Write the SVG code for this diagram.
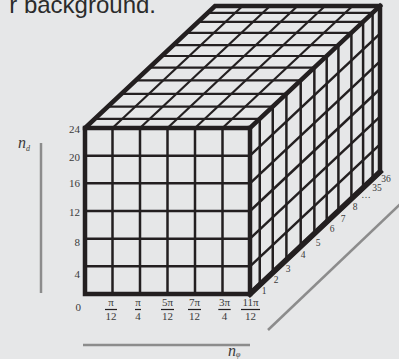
<svg xmlns="http://www.w3.org/2000/svg" width="399" height="359" viewBox="0 0 399 359">
<style>
.bg{fill:#e6e7e8}
.in{stroke:#231f20;stroke-width:2.5;fill:none}
.tin{stroke:#231f20;stroke-width:2.2;fill:none}
.edge{stroke:#231f20;stroke-width:4.5;fill:none;stroke-linejoin:miter;stroke-miterlimit:2;stroke-linecap:square}
.axis{stroke:#8c8c8c;stroke-width:2.5;fill:none}
.lab{font-family:"Liberation Serif","DejaVu Serif",serif;font-size:11px;fill:#3a3a3a}
.rl{text-anchor:end}
.fr{text-anchor:middle}
.dl{font-family:"Liberation Serif","DejaVu Serif",serif;font-size:9.5px;fill:#3a3a3a;text-anchor:middle}
.bar{stroke:#231f20;stroke-width:1.2}
.var{font-family:"Liberation Serif","DejaVu Serif",serif;font-style:italic;font-size:16px;fill:#3a3a3a}
.sub{font-size:8px}
.cap{font-family:"Liberation Sans",Arial,sans-serif;font-size:24px;fill:#2b2b2b}
</style>
<rect class="bg" x="0" y="0" width="399" height="359"/>
<text class="cap" x="156" y="13" text-anchor="end">r background.</text>

<g id="axes">
<line class="axis" x1="41" y1="143" x2="41" y2="293"/>
<line class="axis" x1="83" y1="345" x2="250" y2="345"/>
<line class="axis" x1="268" y1="330" x2="405" y2="199.5"/>
</g>

<g id="top-face">
<polygon class="bg" points="85,128 215,6 380,6 250,128"/>
<g class="tin">
<line x1="94.75" y1="118.85" x2="259.75" y2="118.85"/>
<line x1="107.75" y1="106.65" x2="272.75" y2="106.65"/>
<line x1="121.4" y1="93.84" x2="286.4" y2="93.84"/>
<line x1="135.7" y1="80.42" x2="300.7" y2="80.42"/>
<line x1="149.35" y1="67.61" x2="314.35" y2="67.61"/>
<line x1="161.7" y1="56.02" x2="326.7" y2="56.02"/>
<line x1="173.4" y1="45.04" x2="338.4" y2="45.04"/>
<line x1="186.4" y1="32.84" x2="351.4" y2="32.84"/>
<line x1="198.1" y1="21.86" x2="363.1" y2="21.86"/>
<line x1="207.59" y1="12.95" x2="372.59" y2="12.95"/>
<line x1="112.5" y1="128" x2="242.5" y2="6"/>
<line x1="140" y1="128" x2="270" y2="6"/>
<line x1="167.5" y1="128" x2="297.5" y2="6"/>
<line x1="195" y1="128" x2="325" y2="6"/>
<line x1="222.5" y1="128" x2="352.5" y2="6"/>
</g>
</g>

<g id="side-face">
<polygon class="bg" points="250,128 380,6 380,172 250,294"/>
<g class="in">
<line x1="259.75" y1="118.85" x2="259.75" y2="284.85"/>
<line x1="272.75" y1="106.65" x2="272.75" y2="272.65"/>
<line x1="286.4" y1="93.84" x2="286.4" y2="259.84"/>
<line x1="300.7" y1="80.42" x2="300.7" y2="246.42"/>
<line x1="314.35" y1="67.61" x2="314.35" y2="233.61"/>
<line x1="326.7" y1="56.02" x2="326.7" y2="222.02"/>
<line x1="338.4" y1="45.04" x2="338.4" y2="211.04"/>
<line x1="351.4" y1="32.84" x2="351.4" y2="198.84"/>
<line x1="363.1" y1="21.86" x2="363.1" y2="187.86"/>
<line x1="372.59" y1="12.95" x2="372.59" y2="178.95"/>
<line x1="250" y1="155.67" x2="380" y2="33.67"/>
<line x1="250" y1="183.33" x2="380" y2="61.33"/>
<line x1="250" y1="211" x2="380" y2="89"/>
<line x1="250" y1="238.67" x2="380" y2="116.67"/>
<line x1="250" y1="266.33" x2="380" y2="144.33"/>
</g>
</g>

<g id="front-face">
<rect class="bg" x="85" y="128" width="165" height="166"/>
<g class="in">
<line x1="112.5" y1="128" x2="112.5" y2="294"/>
<line x1="140" y1="128" x2="140" y2="294"/>
<line x1="167.5" y1="128" x2="167.5" y2="294"/>
<line x1="195" y1="128" x2="195" y2="294"/>
<line x1="222.5" y1="128" x2="222.5" y2="294"/>
<line x1="85" y1="155.67" x2="250" y2="155.67"/>
<line x1="85" y1="183.33" x2="250" y2="183.33"/>
<line x1="85" y1="211" x2="250" y2="211"/>
<line x1="85" y1="238.67" x2="250" y2="238.67"/>
<line x1="85" y1="266.33" x2="250" y2="266.33"/>
</g>
</g>

<g id="cube-edges">
<polygon class="edge" points="85,294 85,128 215,6 380,6 380,172 250,294"/>
<polyline class="edge" points="85,128 250,128 380,6"/>
<line class="edge" x1="250" y1="128" x2="250" y2="294"/>
<line class="edge" x1="250" y1="294" x2="380" y2="172" style="stroke-width:5.5"/>
</g>

<g id="y-labels" class="lab rl">
<text x="80" y="133">24</text>
<text x="80" y="160.7">20</text>
<text x="80" y="186.7">16</text>
<text x="80" y="215.7">12</text>
<text x="80" y="246">8</text>
<text x="80" y="277.7">4</text>
<text x="81" y="310.7">0</text>
</g>

<g id="x-labels" class="lab fr">
<g><text x="111" y="305.5">π</text><line class="bar" x1="105" y1="309.5" x2="117" y2="309.5"/><text x="111" y="320">12</text></g>
<g><text x="138" y="305.5">π</text><line class="bar" x1="135" y1="309.5" x2="141" y2="309.5"/><text x="138" y="320">4</text></g>
<g><text x="167.5" y="305.5">5π</text><line class="bar" x1="161" y1="309.5" x2="174" y2="309.5"/><text x="167.5" y="320">12</text></g>
<g><text x="194.5" y="305.5">7π</text><line class="bar" x1="188" y1="309.5" x2="201" y2="309.5"/><text x="194.5" y="320">12</text></g>
<g><text x="224.5" y="305.5">3π</text><line class="bar" x1="218.3" y1="309.5" x2="230.7" y2="309.5"/><text x="224.5" y="320">4</text></g>
<g><text x="250.5" y="305.5">11π</text><line class="bar" x1="241" y1="309.5" x2="260" y2="309.5"/><text x="250.5" y="320">12</text></g>
</g>

<g id="depth-labels" class="dl">
<text x="264" y="294">1</text>
<text x="276" y="283.3">2</text>
<text x="288" y="272.3">3</text>
<text x="303" y="258.3">4</text>
<text x="318" y="246.3">5</text>
<text x="332" y="232.3">6</text>
<text x="343" y="222.3">7</text>
<text x="355" y="210.3">8</text>
<text x="366" y="197.5">…</text>
<text x="377" y="191.3">35</text>
<text x="386" y="182.3">36</text>
</g>

<g id="axis-names">
<text class="var" x="18" y="147.5">n<tspan class="sub" dy="3">d</tspan></text>
<text class="var" x="228" y="355.5">n<tspan class="sub" dy="1.5">φ</tspan></text>
</g>
</svg>
